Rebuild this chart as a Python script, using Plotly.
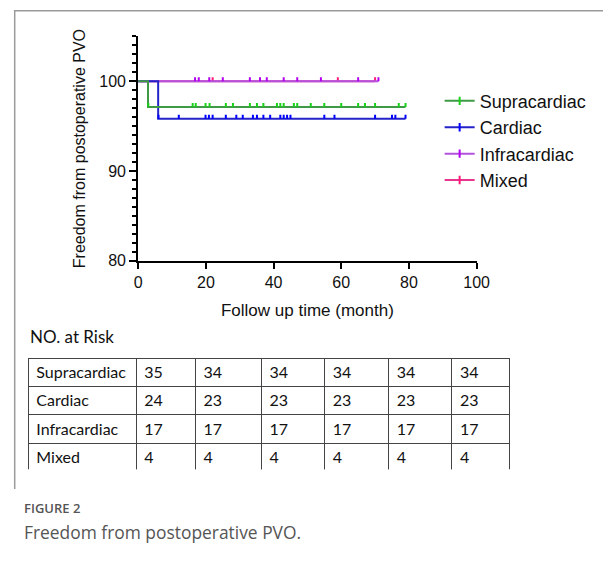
import plotly.graph_objects as go

W, H = 616, 563

# ---------------- data ----------------
groups = ["Supracardiac", "Cardiac", "Infracardiac", "Mixed"]

supra_step_t = [0, 2.9, 79]
supra_step_s = [100, 97.14, 97.14]
cardiac_step_t = [0, 5.9, 79]
cardiac_step_s = [100, 95.83, 95.83]
infra_step_t = [0, 71]
infra_step_s = [100, 100]
mixed_step_t = [0, 70]
mixed_step_s = [100, 100]

supra_censor = [3.0, 16.1, 17.0, 19.9, 21.1, 25.9, 28.0, 33.0, 35.1, 37.0, 41.0, 42.0,
                43.0, 46.0, 47.0, 51.0, 55.0, 60.0, 65.0, 67.0, 70.0, 77.0, 79.0]
cardiac_censor = [6.0, 12.0, 19.9, 20.9, 22.0, 25.9, 29.0, 30.9, 33.9, 35.1, 37.0, 39.0,
                  42.0, 43.0, 44.0, 45.0, 55.0, 58.0, 70.0, 75.0, 76.0, 79.0]
infra_censor = [16.8, 17.9, 21.0, 25.0, 33.0, 36.0, 38.0, 43.0, 47.0, 54.0, 65.0, 71.0]
mixed_censor = [22.0, 59.0, 70.0]

risk_supra = [35, 34, 34, 34, 34, 34]
risk_cardiac = [24, 23, 23, 23, 23, 23]
risk_infra = [17, 17, 17, 17, 17, 17]
risk_mixed = [4, 4, 4, 4, 4, 4]

x_ticks = [0, 20, 40, 60, 80, 100]
y_ticks = [80, 90, 100]

# ---------------- styles ----------------
line_col = {"Supracardiac": "#3f9a45", "Cardiac": "#2323c8",
            "Infracardiac": "#b452e0", "Mixed": "#e8358e"}
tick_col = {"Supracardiac": "#17d017", "Cardiac": "#0000ff",
            "Infracardiac": "#b400f0", "Mixed": "#ff1a7a"}

series = {
    "Supracardiac": (supra_step_t, supra_step_s, supra_censor),
    "Cardiac": (cardiac_step_t, cardiac_step_s, cardiac_censor),
    "Infracardiac": (infra_step_t, infra_step_s, infra_censor),
    "Mixed": (mixed_step_t, mixed_step_s, mixed_censor),
}


def level_at(t, ts, ss):
    lvl = ss[0]
    for tt, s in zip(ts, ss):
        if tt <= t:
            lvl = s
    return lvl


fig = go.Figure()

TICK_H = 0.45
draw_order = ["Mixed", "Infracardiac", "Cardiac", "Supracardiac"]
for g in draw_order:
    ts, ss, cs = series[g]
    fig.add_trace(go.Scatter(x=ts, y=ss, mode="lines", line_shape="hv",
                             line=dict(color=line_col[g], width=2),
                             showlegend=False, hoverinfo="skip"))
    cy = [level_at(t, ts, ss) for t in cs]
    fig.add_trace(go.Scatter(x=cs, y=cy, mode="markers",
                             marker=dict(size=1, color="rgba(0,0,0,0)"),
                             error_y=dict(type="data", symmetric=False,
                                          array=[TICK_H] * len(cs),
                                          arrayminus=[0] * len(cs),
                                          color=tick_col[g], thickness=2, width=0),
                             showlegend=False, hoverinfo="skip"))

for i, g in enumerate(groups):
    fig.add_trace(go.Scatter(x=[None], y=[None], mode="lines+markers", name=g,
                             line=dict(color=line_col[g], width=2),
                             marker=dict(symbol="line-ns", size=6,
                                         line=dict(color=tick_col[g], width=2)),
                             legendrank=i + 1))

# table
fig.add_trace(go.Table(
    domain=dict(x=[25 / W, 520 / W], y=[1 - 477 / H, 1 - 364 / H]),
    columnwidth=[111, 61, 68, 65, 66, 65, 59],
    header=dict(values=[groups[0]] + [str(v) for v in risk_supra],
                fill_color="white", line=dict(color="#444444", width=1),
                align="left", height=28.3,
                font=dict(family="Lato", size=16, color="#111111")),
    cells=dict(values=[groups[1:]] + [[str(a), str(b), str(c)] for a, b, c in
                                      zip(risk_cardiac, risk_infra, risk_mixed)],
               fill_color="white", line=dict(color="#444444", width=1),
               align="left", height=28.3,
               font=dict(family="Lato", size=16, color="#111111")),
))

axis_font = dict(family="Liberation Sans, Arial", size=16, color="#111111")
fig.update_layout(
    autosize=True,
    margin=dict(l=0, r=0, t=0, b=0),
    paper_bgcolor="white", plot_bgcolor="rgba(0,0,0,0)",
    font=dict(family="Liberation Sans, Arial", color="#111111"),
    xaxis=dict(domain=[138 / W, 486 / W], range=[0, 100], tickvals=x_ticks,
               showgrid=False, zeroline=False, showline=True, linecolor="black",
               linewidth=2, ticks="outside", ticklen=6, tickwidth=2, tickcolor="black",
               tickfont=axis_font,
               title=dict(text="Follow up time (month)", font=dict(size=17), standoff=14)),
    yaxis=dict(domain=[1 - 265 / H, 1 - 37 / H], range=[80, 105], tickvals=y_ticks,
               showgrid=False, zeroline=False, showline=True, linecolor="black",
               linewidth=2, ticks="outside", ticklen=7, tickwidth=2, tickcolor="black",
               tickfont=axis_font,
               minor=dict(dtick=1, ticks="outside", ticklen=4, tickwidth=1.5,
                          tickcolor="black", showgrid=False),
               title=dict(text="Freedom from postoperative PVO", font=dict(size=16),
                          standoff=10)),
    legend=dict(x=448 / W, y=1 - 84 / H, xanchor="left", yanchor="top",
                font=dict(family="Liberation Sans, Arial", size=18, color="#111111"),
                bgcolor="rgba(0,0,0,0)", tracegroupgap=0),
    showlegend=True,
)

fig.add_annotation(text="NO. at Risk", xref="paper", yref="paper", x=25 / W,
                   y=1 - 342 / H, xanchor="left", yanchor="middle", showarrow=False,
                   font=dict(family="Lato", size=17, color="#111111"))
fig.add_annotation(text="FIGURE 2", xref="paper", yref="paper", x=19 / W,
                   y=1 - 516 / H, xanchor="left", yanchor="middle", showarrow=False,
                   font=dict(family="Open Sans", size=13, color="#555555", weight=600))
fig.add_annotation(text="Freedom from postoperative PVO.", xref="paper", yref="paper",
                   x=19 / W, y=1 - 541 / H, xanchor="left", yanchor="middle",
                   showarrow=False,
                   font=dict(family="Open Sans", size=17.4, color="#555555"))

# page frame (decorative)
fig.add_shape(type="path", xref="paper", yref="paper", layer="above",
              path=f"M 1 {1 - 11 / H} L {11 / W} {1 - 11 / H} L {11 / W} {1 - 497 / H}",
              line=dict(color="#9a9a9a", width=1.5))

fig.write_html("out.html",
               config={"displayModeBar": False},
               default_width="100vw", default_height="100vh",
               post_script="document.body.style.margin='0';"
                           "document.body.style.overflow='hidden';")
